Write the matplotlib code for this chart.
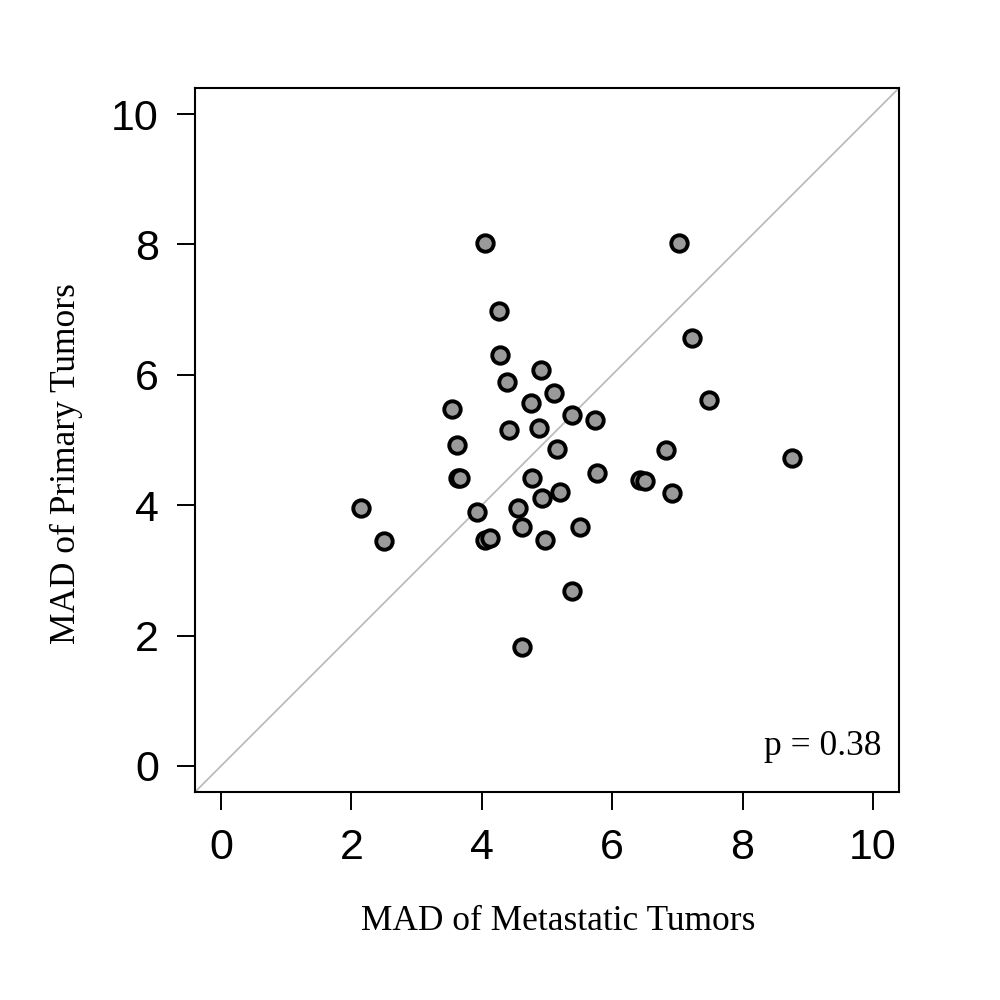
import numpy as np
import matplotlib
matplotlib.use("Agg")
import matplotlib.pyplot as plt

# MAD values (x = metastatic, y = primary)
mad_metastatic = [4.05, 4.26, 4.28, 4.91, 4.39, 5.11, 3.54, 4.76, 5.38, 5.73,
                  4.41, 4.88, 3.62, 5.16, 3.64, 3.67, 4.77, 5.76, 6.42, 6.50,
                  2.15, 3.92, 4.55, 4.92, 5.20, 2.50, 4.05, 4.13, 4.62, 4.97,
                  5.50, 5.38, 4.61, 7.03, 7.22, 7.48, 6.82, 6.91, 8.76]
mad_primary = [8.02, 6.98, 6.31, 6.07, 5.89, 5.72, 5.47, 5.56, 5.39, 5.30,
               5.15, 5.18, 4.92, 4.86, 4.41, 4.41, 4.41, 4.50, 4.38, 4.37,
               3.96, 3.90, 3.95, 4.11, 4.20, 3.45, 3.46, 3.49, 3.66, 3.47,
               3.66, 2.68, 1.83, 8.02, 6.56, 5.62, 4.84, 4.18, 4.72]
ticks = [0, 2, 4, 6, 8, 10]
p_text = "p = 0.38"

fig = plt.figure(figsize=(10, 10), dpi=100)
ax = fig.add_axes([0.195, 0.208, 0.704, 0.704])

# identity line
ax.axline((0, 0), (1, 1), color="#bdbdbd", lw=1.3, zorder=1)

ax.scatter(mad_metastatic, mad_primary, s=140, facecolor="#9a9a9a",
           edgecolor="black", linewidths=2.8, zorder=3)

ax.set_xlim(-0.4, 10.4)
ax.set_ylim(-0.4, 10.4)
ax.set_xticks(ticks)
ax.set_yticks(ticks)
ax.tick_params(direction="out", length=13, width=1.4, pad=13,
               labelsize=31)
for lab in ax.get_xticklabels() + ax.get_yticklabels():
    lab.set_family("Liberation Sans")
for sp in ax.spines.values():
    sp.set_linewidth(1.5)

ax.text(0.975, 0.065, p_text, transform=ax.transAxes, ha="right",
        va="center", fontsize=25.5, family="Liberation Serif")

fig.text(0.558, 0.078, "MAD of Metastatic Tumors", ha="center", va="center",
         fontsize=25.5, family="Liberation Serif")
fig.text(0.066, 0.536, "MAD of Primary Tumors", ha="center", va="center",
         rotation=90, fontsize=25.5, family="Liberation Serif")

fig.savefig("out.png", dpi=100)
